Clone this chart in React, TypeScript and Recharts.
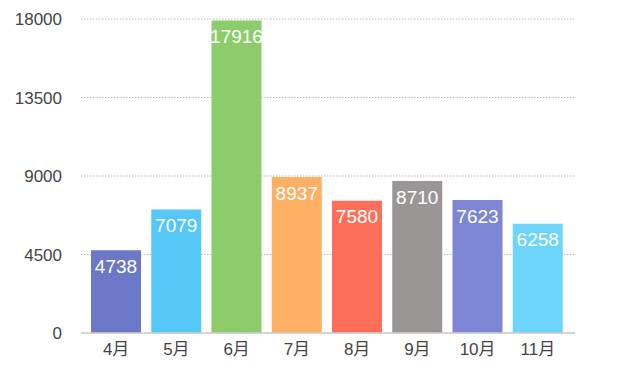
import { BarChart, Bar, XAxis, YAxis, CartesianGrid, Cell, LabelList } from "recharts";

// 月份和数值
const months = ["4月", "5月", "6月", "7月", "8月", "9月", "10月", "11月"];
const values = [4738, 7079, 17916, 8937, 7580, 8710, 7623, 6258];
const colors = ["#6b78c8", "#55c8f7", "#8ccc6a", "#fdb064", "#fe6f5a", "#9a9696", "#7d86d4", "#6dd4fb"];
const yTicks = [0, 4500, 9000, 13500, 18000];

const data = months.map((m, i) => ({ month: m, value: values[i] }));

const font = "'Liberation Sans', Arial, 'Noto Sans CJK SC', sans-serif";

export default function App() {
  return (
    <div style={{ position: "absolute", left: 0, top: 0, width: 640, height: 390, background: "#fff", fontFamily: font }}>
      <BarChart width={640} height={390} data={data} margin={{ top: 19, right: 65, bottom: 27, left: 0 }}>
        <CartesianGrid vertical={false} stroke="#b8b8b8" strokeDasharray="1.5 1.5" />
        <XAxis
          dataKey="month"
          height={30}
          padding={{ left: 5, right: 7 }}
          axisLine={{ stroke: "#ccc", strokeWidth: 1.5 }}
          tickLine={false}
          tickSize={0}
          tickMargin={10}
          tick={{ fill: "#444", fontSize: 17, fontFamily: font }}
        />
        <YAxis
          width={81}
          domain={[0, 18000]}
          ticks={yTicks}
          axisLine={false}
          tickLine={false}
          tickSize={0}
          tickMargin={19}
          tick={{ fill: "#444", fontSize: 17, fontFamily: font }}
        />
        <Bar dataKey="value" barSize={50} isAnimationActive={false}>
          {data.map((d, i) => (
            <Cell key={d.month} fill={colors[i]} />
          ))}
          <LabelList dataKey="value" position="insideTop" offset={9} fill="#fff" fontSize={19} fontFamily={font} />
        </Bar>
      </BarChart>
    </div>
  );
}
